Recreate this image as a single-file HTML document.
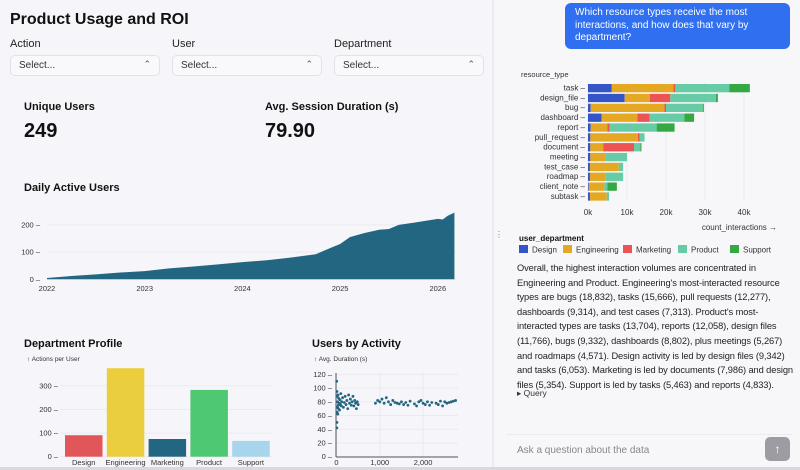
<!DOCTYPE html>
<html><head><meta charset="utf-8">
<style>
*{box-sizing:border-box;margin:0;padding:0}
body{width:800px;height:470px;overflow:hidden;background:#f7f6f9;font-family:"Liberation Sans",sans-serif;color:#111;position:relative}
.abs{position:absolute}
.lbl{font-size:11px;color:#222}
.sel{position:absolute;top:55px;height:21px;width:150px;border:1px solid #e2e1e6;border-radius:5px;background:#f9f8fb;font-size:10px;color:#333;padding:4px 8px}
.sel:after{content:"⌃";position:absolute;right:8px;top:3px;font-size:9px;color:#555}
h1{font-size:16px;font-weight:bold}
h2{font-size:11px;font-weight:bold}
svg text{font-family:"Liberation Sans",sans-serif}
</style></head><body>
<div class="abs" style="left:0;top:0;width:492px;height:470px;background:#f6f5f9"></div>
<div class="abs" style="left:492px;top:0;width:2px;height:470px;background:#ebeaee"></div>
<div class="abs" style="left:495px;top:230px;font-size:8px;color:#777">⋮</div>
<h1 class="abs" style="left:10px;top:11px">Product Usage and ROI</h1>
<div class="abs lbl" style="left:10px;top:38px">Action</div>
<div class="abs lbl" style="left:172px;top:38px">User</div>
<div class="abs lbl" style="left:334px;top:38px">Department</div>
<div class="sel" style="left:10px">Select...</div>
<div class="sel" style="left:172px">Select...</div>
<div class="sel" style="left:334px">Select...</div>
<div class="abs" style="left:24px;top:101px;font-size:11px;font-weight:bold">Unique Users</div>
<div class="abs" style="left:24px;top:120px;font-size:20px;font-weight:bold">249</div>
<div class="abs" style="left:265px;top:101px;font-size:11px;font-weight:bold">Avg. Session Duration (s)</div>
<div class="abs" style="left:265px;top:120px;font-size:20px;font-weight:bold">79.90</div>
<h2 class="abs" style="left:24px;top:182px">Daily Active Users</h2>
<h2 class="abs" style="left:24px;top:338px">Department Profile</h2>
<h2 class="abs" style="left:312px;top:338px">Users by Activity</h2>
<svg id="charts" class="abs" style="left:0;top:0" width="800" height="470"></svg>
<div class="abs" style="left:565px;top:3px;width:225px;height:46px;background:#2f6ff0;border-radius:6px;color:#fff;font-size:10px;line-height:12.5px;padding:4px 10px 0 10px">Which resource types receive the most interactions, and how does that vary by department?</div>
<div class="abs" style="left:517px;top:261px;width:280px;font-size:9.3px;letter-spacing:-0.1px;line-height:14.6px;color:#222">Overall, the highest interaction volumes are concentrated in Engineering and Product. Engineering's most-interacted resource types are bugs (18,832), tasks (15,666), pull requests (12,277), dashboards (9,314), and test cases (7,313). Product's most-interacted types are tasks (13,704), reports (12,058), design files (11,766), bugs (9,332), dashboards (8,802), plus meetings (5,267) and roadmaps (4,571). Design activity is led by design files (9,342) and tasks (6,053). Marketing is led by documents (7,986) and design files (5,354). Support is led by tasks (5,463) and reports (4,833).</div>
<div class="abs" style="left:517px;top:388px;font-size:8.5px;color:#333">▸ Query</div>
<div class="abs" style="left:506px;top:434px;width:287px;height:30px;border-top:1px solid #ebeaee;font-size:10px;color:#888;padding:10px 0 0 11px">Ask a question about the data</div>
<div class="abs" style="left:765px;top:437px;width:25px;height:24px;border-radius:5px;background:#9d9ca3;color:#fff;font-size:12px;text-align:center;line-height:24px">↑</div>
<div class="abs" style="left:0;top:467px;width:800px;height:3px;background:#d9d8dc"></div>
<script>
const NS="http://www.w3.org/2000/svg";
const svg=document.getElementById('charts');
function mk(t,a,p){const e=document.createElementNS(NS,t);for(const k in a)e.setAttribute(k,a[k]);(p||svg).appendChild(e);return e;}
function tx(x,y,s,o){const e=mk('text',Object.assign({x:x,y:y,'font-size':7.5,fill:'#333'},o||{}));e.textContent=s;return e;}

// ---------- Daily Active Users ----------
const dauDates=[2022.0,2022.25,2022.5,2022.75,2023.0,2023.25,2023.5,2023.75,2024.0,2024.25,2024.5,2024.75,2024.9,2025.0,2025.1,2025.25,2025.4,2025.5,2025.6,2025.75,2026.0,2026.05,2026.1,2026.17];
const dauValues=[5,12,18,25,30,40,47,55,63,70,80,92,115,130,155,170,182,185,200,208,222,220,233,245];
const dauTicks=[0,100,200];
const dauYears=[2022,2023,2024,2025,2026];
const ax=d=>47+(d-2022)*97.7, ay=v=>279.3-v*0.272;
dauTicks.forEach(t=>{const g=mk('line',{x1:47,x2:456,y1:ay(t),y2:ay(t),stroke:'#ebeaee'});
 const l=tx(40,ay(t)+2.5,t+' –',{'text-anchor':'end'});});
let dp='M'+ax(dauDates[0])+','+ay(0);dauDates.forEach((d,i)=>dp+=' L'+ax(d)+','+ay(dauValues[i]));dp+=' L'+ax(dauDates[dauDates.length-1])+','+ay(0)+'Z';
const area=mk('path',{d:dp,fill:'#236682'});


dauYears.forEach(y=>{const l=tx(ax(y),291,y,{'text-anchor':'middle'});});

// ---------- Department Profile ----------
const depts=['Design','Engineering','Marketing','Product','Support'];
const deptValues=[91,375,75,283,67];
const deptColors=['#e15759','#ebce3e','#236682','#4fc872','#a6d5ec'];
const deptTicks=[0,100,200,300];
const by=v=>456.7-v*0.236;
tx(27,361,'↑ Actions per User',{'font-size':6.5});
deptTicks.forEach(t=>{const g=mk('line',{x1:60,x2:273,y1:by(t),y2:by(t),stroke:'#ebeaee'});
 const l=tx(58,by(t)+2.5,t+' –',{'text-anchor':'end'});});
depts.forEach((d,i)=>{const x=65+i*41.8;const r=mk('rect',{x:x,y:by(deptValues[i]),width:37.5,height:by(0)-by(deptValues[i]),fill:deptColors[i]});
 
 
 const l=tx(x+18.7,465,d,{'text-anchor':'middle'});});

// ---------- Users by Activity ----------
const actX=[5,8,10,12,15,18,20,25,30,35,40,45,50,60,70,80,90,100,110,120,140,160,180,200,220,240,260,280,300,320,340,360,380,400,420,440,460,480,500,900,950,1000,1050,1100,1150,1200,1250,1300,1350,1400,1450,1500,1550,1600,1650,1700,1800,1850,1900,1950,2000,2050,2100,2150,2200,2300,2350,2400,2450,2500,2550,2600,2650,2700,2750];
const actY=[110,42,50,95,65,88,72,80,62,90,75,70,85,78,68,83,76,92,74,80,86,72,79,88,76,82,70,90,78,84,75,80,88,74,82,78,70,80,76,78,82,80,84,78,86,80,76,82,79,78,77,80,76,79,75,81,77,74,80,82,78,76,80,75,79,78,76,81,74,80,78,79,80,81,82];
const yTicksA=[0,20,40,60,80,100,120];
const xTicksA=[0,1000,2000];
const sx=v=>336.5+v*0.0433, sy=v=>456.7-v*0.686;
tx(314,361,'↑ Avg. Duration (s)',{'font-size':6.5});
yTicksA.forEach(t=>{const g=mk('line',{x1:336,x2:458,y1:sy(t),y2:sy(t),stroke:'#ebeaee'});
 const l=tx(332,sy(t)+2.5,t+' –',{'text-anchor':'end'});});
xTicksA.forEach(t=>{const g=mk('line',{x1:sx(t),x2:sx(t),y1:373,y2:457,stroke:'#ebeaee'});
 const l=tx(sx(t),465,t.toLocaleString('en-US'),{'text-anchor':'middle'});});
mk('line',{x1:336,x2:336,y1:373,y2:457,stroke:'#555'});
mk('line',{x1:336,x2:458,y1:457,y2:457,stroke:'#555'});
actX.forEach((v,i)=>{const c=mk('circle',{cx:sx(v),cy:sy(actY[i]),r:1.4,fill:'#236682'});
 
 });

// ---------- Resource interactions stacked bar ----------
const resTypes=['task','design_file','bug','dashboard','report','pull_request','document','meeting','test_case','roadmap','client_note','subtask'];
const designVals=[6.1,9.4,0.7,3.5,0.7,0.6,0.6,0.6,0.5,0.5,0.2,0.5];
const engVals=[15.8,6.5,18.9,9.2,4.3,12.2,3.3,4.0,7.4,3.9,4.0,4.3];
const mktVals=[0.5,5.2,0.4,3.1,0.5,0.4,7.9,0,0,0,0,0];
const prodVals=[13.8,11.7,9.4,8.9,12.1,1.3,1.6,5.4,1.1,4.6,0.8,0.6];
const suppVals=[5.3,0.5,0.3,2.5,4.6,0,0.3,0,0,0,2.4,0];
const seriesNames=['Design','Engineering','Marketing','Product','Support'];
const seriesColors=['#3355c8','#e5a823','#ec5353','#67cca6','#35a843'];
const resTicks=[0,10,20,30,40];
const rx=v=>588+v*3.9, ry=i=>84+i*9.85;
tx(521,77,'resource_type',{'font-size':7.5});
resTicks.forEach(t=>{const g=mk('line',{x1:rx(t),x2:rx(t),y1:82,y2:200,stroke:'#ebeaee'});
 const l=tx(rx(t),215,t+'k',{'text-anchor':'middle','font-size':8});});
const allVals=[designVals,engVals,mktVals,prodVals,suppVals];
resTypes.forEach((r,i)=>{let acc=0;
 const l=tx(585,ry(i)+6.5,r+' –',{'text-anchor':'end','font-size':8});
 allVals.forEach((s,j)=>{if(s[i]>0){const b=mk('rect',{x:rx(acc),y:ry(i),width:rx(acc+s[i])-rx(acc),height:8.3,fill:seriesColors[j]});
  
  }acc+=s[i];});});
tx(777,230,'count_interactions →',{'text-anchor':'end','font-size':8});
tx(519,241,'user_department',{'font-size':8,'font-weight':'bold',fill:'#111'});
const legX=[519,563,623,678,730];
seriesNames.forEach((n,j)=>{const r=mk('rect',{x:legX[j],y:245,width:9,height:8,fill:seriesColors[j]});
 
 
 const l=tx(legX[j]+13,252.5,n,{'font-size':8});});
</script>
</body></html>
